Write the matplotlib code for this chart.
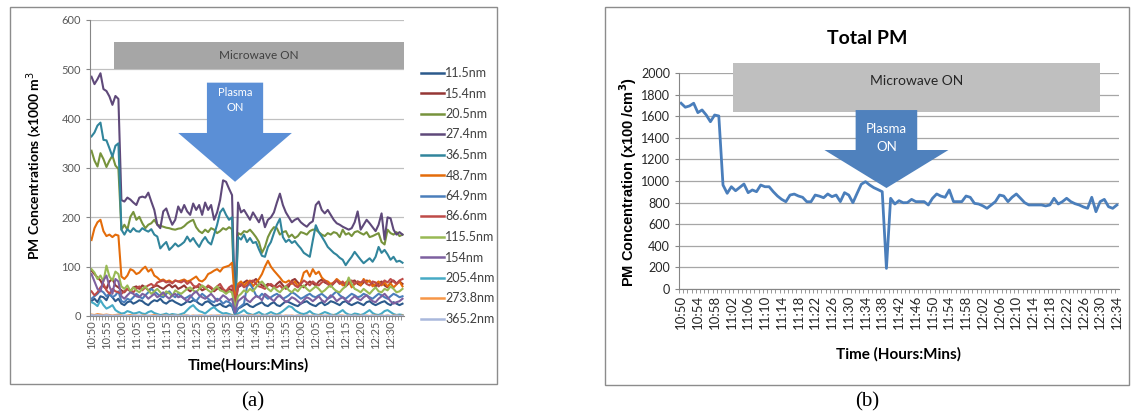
import matplotlib
matplotlib.use("Agg")
import matplotlib.pyplot as plt
import pandas as pd
from matplotlib.patches import Rectangle, FancyArrow

W, H = 1132, 417

# one reading per minute, 10:50 to 12:34
times = pd.date_range("2000-01-01 10:50", "2000-01-01 12:34", freq="min")
time_labels = list(times.strftime("%H:%M"))

# (a) size-resolved concentrations (x1000 m^-3)
nm_11_5 = [30, 35, 28, 40, 38, 32, 45, 38, 30, 35, 25, 22, 28, 30, 25,
           28, 32, 30, 25, 22, 28, 32, 30, 35, 28, 25, 30, 32, 28, 25,
           22, 25, 30, 28, 32, 30, 25, 22, 28, 30, 25, 20, 22, 25, 20,
           18, 22, 20, 2, 15, 18, 22, 25, 20, 18, 22, 25, 28, 22, 20,
           25, 28, 22, 20, 25, 30, 28, 25, 22, 20, 25, 28, 30, 25, 22,
           20, 25, 28, 22, 25, 30, 28, 25, 22, 28, 30, 25, 22, 25, 28,
           25, 22, 28, 30, 25, 22, 25, 28, 30, 25, 22, 28, 25, 22, 25]
nm_15_4 = [92, 85, 78, 72, 60, 55, 70, 75, 62, 58, 52, 48, 55, 50, 58,
           60, 55, 62, 58, 52, 56, 60, 62, 58, 55, 60, 64, 58, 62, 55,
           58, 62, 55, 50, 56, 60, 58, 52, 55, 60, 56, 50, 55, 58, 52,
           48, 55, 52, 20, 58, 62, 68, 72, 65, 70, 75, 68, 62, 60, 65,
           62, 58, 65, 70, 62, 55, 60, 72, 75, 68, 62, 58, 65, 70, 66,
           62, 70, 74, 68, 65, 60, 66, 72, 68, 64, 60, 66, 70, 72, 65,
           62, 68, 72, 70, 65, 60, 66, 70, 62, 58, 68, 72, 66, 70, 65]
nm_20_5 = [335, 315, 303, 330, 318, 302, 315, 325, 305, 298, 175, 185, 175, 201, 211,
           195, 201, 188, 178, 185, 188, 195, 185, 183, 181, 179, 178, 176, 175, 177,
           178, 182, 188, 192, 195, 180, 172, 168, 175, 170, 178, 175, 168, 172, 178,
           175, 180, 176, 5, 168, 165, 172, 170, 175, 168, 160, 150, 128, 140, 160,
           172, 180, 178, 165, 170, 172, 160, 165, 158, 162, 170, 168, 165, 172, 175,
           175, 170, 165, 162, 168, 165, 170, 168, 160, 175, 165, 168, 162, 170, 172,
           168, 165, 170, 160, 162, 165, 168, 150, 145, 175, 168, 165, 170, 162, 165]
nm_27_4 = [485, 470, 480, 492, 460, 456, 445, 428, 446, 440, 235, 232, 240, 236, 230,
           225, 240, 242, 240, 250, 232, 215, 185, 178, 212, 218, 200, 185, 195, 222,
           210, 225, 212, 205, 228, 215, 225, 205, 230, 215, 225, 195, 210, 235, 275,
           272, 258, 245, 5, 230, 210, 215, 205, 195, 210, 200, 190, 205, 180, 195,
           200, 210, 230, 248, 225, 210, 200, 190, 195, 198, 190, 185, 181, 188, 192,
           225, 232, 215, 208, 215, 205, 195, 188, 185, 181, 178, 175, 178, 190, 212,
           175, 185, 195, 188, 180, 172, 185, 208, 155, 200, 198, 175, 165, 170, 165]
nm_36_5 = [364, 372, 386, 392, 357, 356, 340, 323, 345, 350, 175, 165, 176, 170, 178,
           172, 171, 178, 174, 171, 176, 165, 161, 137, 144, 150, 134, 140, 147, 141,
           145, 150, 161, 151, 158, 148, 140, 152, 160, 150, 145, 165, 185, 210, 218,
           205, 195, 200, 3, 160, 155, 165, 150, 158, 148, 150, 135, 122, 120, 140,
           150, 168, 185, 197, 160, 150, 155, 148, 152, 144, 137, 128, 124, 120, 153,
           184, 170, 161, 151, 140, 134, 128, 124, 118, 114, 103, 112, 120, 130, 122,
           114, 107, 112, 117, 110, 120, 140, 128, 134, 125, 114, 120, 110, 112, 108]
nm_48_7 = [154, 178, 190, 195, 172, 162, 165, 160, 165, 163, 80, 75, 82, 95, 92,
           85, 88, 95, 100, 90, 95, 82, 78, 72, 74, 70, 72, 68, 72, 70,
           72, 74, 70, 72, 76, 80, 72, 70, 75, 85, 88, 92, 95, 90, 98,
           100, 102, 108, 30, 65, 70, 62, 68, 72, 60, 68, 75, 85, 100, 112,
           100, 92, 85, 78, 70, 68, 72, 65, 70, 60, 68, 88, 92, 80, 95,
           85, 90, 78, 72, 70, 65, 68, 75, 70, 62, 68, 72, 58, 65, 70,
           62, 75, 68, 72, 60, 65, 70, 62, 68, 60, 66, 58, 64, 70, 60]
nm_64_9 = [35, 40, 45, 52, 48, 40, 45, 38, 42, 50, 30, 28, 35, 32, 38,
           45, 40, 35, 42, 48, 55, 50, 45, 40, 38, 45, 50, 42, 38, 45,
           40, 35, 38, 42, 35, 30, 38, 45, 40, 35, 30, 28, 35, 32, 25,
           30, 28, 22, 5, 15, 20, 25, 60, 65, 55, 42, 38, 45, 40, 35,
           38, 42, 45, 40, 35, 38, 42, 48, 45, 40, 35, 38, 42, 45, 40,
           38, 42, 45, 40, 35, 38, 45, 50, 42, 38, 35, 40, 45, 42, 38,
           40, 45, 42, 38, 35, 40, 45, 42, 38, 35, 40, 45, 42, 38, 40]
nm_86_6 = [50, 42, 48, 58, 65, 52, 45, 55, 50, 48, 45, 50, 55, 52, 48,
           55, 60, 52, 58, 62, 65, 60, 68, 70, 72, 68, 70, 66, 72, 70,
           68, 72, 65, 70, 62, 58, 65, 60, 55, 62, 58, 52, 60, 65, 55,
           50, 58, 62, 25, 60, 65, 58, 62, 70, 72, 65, 60, 58, 55, 62,
           65, 60, 58, 62, 55, 60, 65, 70, 62, 58, 65, 72, 68, 62, 70,
           65, 62, 68, 72, 65, 60, 68, 72, 65, 70, 62, 68, 72, 65, 70,
           68, 72, 65, 62, 70, 68, 60, 65, 72, 68, 75, 70, 65, 72, 75]
nm_115_5 = [95, 88, 75, 82, 70, 102, 80, 72, 90, 85, 60, 55, 62, 50, 58,
            52, 48, 55, 60, 52, 45, 50, 55, 48, 42, 50, 46, 40, 52, 48,
            45, 50, 55, 58, 52, 48, 55, 62, 58, 52, 48, 55, 60, 52, 50,
            45, 50, 48, 15, 40, 45, 52, 48, 55, 50, 58, 65, 70, 62, 55,
            50, 58, 52, 48, 55, 60, 52, 48, 55, 50, 58, 62, 55, 50, 55,
            60, 55, 48, 52, 58, 62, 55, 50, 48, 55, 60, 78, 65, 55, 52,
            48, 55, 50, 45, 52, 58, 50, 48, 55, 52, 60, 55, 48, 50, 55]
nm_154 = [85, 70, 55, 50, 72, 82, 60, 45, 75, 70, 40, 35, 42, 48, 45,
          40, 38, 45, 42, 35, 40, 45, 38, 42, 48, 40, 35, 42, 45, 38,
          40, 35, 30, 38, 45, 50, 42, 38, 35, 40, 45, 38, 30, 35, 42,
          38, 32, 35, 8, 30, 35, 40, 32, 28, 35, 40, 38, 32, 45, 40,
          35, 30, 38, 42, 35, 28, 32, 38, 35, 30, 25, 32, 38, 35, 30,
          35, 40, 32, 28, 35, 42, 38, 30, 35, 38, 32, 28, 35, 40, 35,
          32, 38, 42, 35, 30, 28, 35, 40, 45, 38, 30, 25, 28, 30, 35]
nm_205_4 = [28, 25, 20, 32, 22, 15, 18, 22, 12, 8, 5, 6, 10, 8, 5,
            6, 8, 5, 4, 8, 10, 6, 4, 2, 3, 5, 2, 4, 3, 2,
            4, 6, 12, 18, 22, 15, 10, 8, 5, 10, 15, 18, 12, 8, 5,
            6, 4, 2, 0, 5, 8, 12, 6, 4, 2, 5, 8, 4, 2, 5,
            8, 5, 3, 6, 10, 15, 20, 18, 12, 8, 5, 4, 6, 10, 5,
            3, 2, 5, 8, 6, 3, 2, 4, 8, 12, 6, 3, 2, 5, 4,
            2, 4, 8, 12, 6, 3, 2, 5, 10, 12, 8, 4, 2, 3, 2]
nm_273_8 = [3, 2, 4, 3, 2, 3, 2, 1, 2, 3, 1, 0, 1, 2, 1,
            1, 0, 1, 1, 0, 1, 2, 1, 0, 1, 1, 0, 1, 0, 1,
            0, 1, 1, 0, 1, 0, 1, 1, 0, 0, 1, 0, 1, 1, 0,
            1, 0, 1, 0, 1, 0, 1, 0, 2, 1, 0, 1, 0, 1, 0,
            1, 0, 1, 1, 0, 1, 0, 1, 0, 1, 1, 0, 1, 0, 1,
            0, 1, 1, 0, 1, 0, 1, 0, 1, 1, 0, 1, 0, 1, 0,
            1, 0, 1, 0, 1, 1, 0, 1, 0, 1, 0, 1, 1, 0, 1]
nm_365_2 = [2, 1, 2, 1, 1, 2, 1, 0, 1, 1, 0, 1, 0, 0, 1,
            0, 1, 0, 0, 1, 0, 0, 1, 0, 0, 1, 0, 0, 1, 0,
            0, 0, 1, 0, 0, 1, 0, 0, 1, 0, 0, 1, 0, 0, 1,
            0, 1, 0, 0, 0, 1, 0, 0, 1, 0, 1, 0, 0, 1, 0,
            0, 1, 0, 1, 0, 0, 1, 0, 0, 1, 0, 0, 1, 0, 0,
            1, 0, 0, 1, 0, 1, 0, 0, 1, 0, 0, 1, 0, 1, 0,
            0, 1, 0, 0, 1, 0, 0, 1, 0, 1, 0, 0, 1, 0, 0]

# (b) total concentration (x100 /cm^3)
total_pm = [1720, 1683, 1695, 1720, 1633, 1658, 1611, 1549, 1611, 1602,
            963, 886, 947, 910, 941, 972, 892, 917, 901, 963,
            947, 947, 901, 861, 830, 808, 870, 879, 861, 849,
            808, 808, 870, 860, 845, 880, 855, 870, 809, 892,
            870, 799, 886, 970, 994, 963, 938, 920, 901, 191,
            840, 787, 818, 799, 800, 830, 809, 809, 809, 778,
            840, 880, 860, 849, 917, 809, 809, 809, 861, 849,
            793, 787, 770, 747, 778, 809, 870, 861, 809, 850,
            880, 840, 799, 778, 778, 778, 778, 769, 778, 840,
            787, 809, 840, 809, 790, 778, 760, 747, 849, 716,
            809, 830, 762, 747, 778]

size_labels = ["11.5nm", "15.4nm", "20.5nm", "27.4nm", "36.5nm", "48.7nm", "64.9nm",
               "86.6nm", "115.5nm", "154nm", "205.4nm", "273.8nm", "365.2nm"]
size_series = [nm_11_5, nm_15_4, nm_20_5, nm_27_4, nm_36_5, nm_48_7, nm_64_9,
               nm_86_6, nm_115_5, nm_154, nm_205_4, nm_273_8, nm_365_2]
size_colors = ["#2c5a8c", "#953735", "#77933c", "#5f497a", "#31859c", "#e46c0a", "#4a7ebb",
               "#be4b48", "#98b954", "#7d60a0", "#46aac5", "#f79646", "#a9b8dc"]

for s in size_series + [total_pm]:
    assert len(s) == len(times), len(s)

x = list(range(len(times)))
ui = ["Lato", "DejaVu Sans"]


def fx(px):
    return px / W


def fy(py):
    return 1 - py / H


fig = plt.figure(figsize=(W / 100, H / 100), dpi=100)

# panel frames
for x0, y0, x1, y1 in [(10, 7, 497, 384), (605, 7, 1129, 385)]:
    fig.add_artist(Rectangle((fx(x0), fy(y1)), fx(x1 - x0), (y1 - y0) / H,
                             transform=fig.transFigure, fill=False,
                             edgecolor="#8c8c8c", lw=1))

# ---------------- (a) ----------------
ax = fig.add_axes([fx(90), fy(316), fx(314), 296 / H])
for lab, s, c in zip(size_labels, size_series, size_colors):
    ax.plot(x, s, color=c, lw=1.5, label=lab, solid_joinstyle="round")
ax.set_xlim(-0.5, len(x) - 0.5)
ax.set_ylim(0, 600)
ax.set_yticks(range(0, 601, 100))
ax.set_xticks(x[::5])
ax.set_xticklabels(time_labels[::5], rotation=90, fontsize=8, color="#595959", family=ui)
ax.set_xticks([i - 0.5 for i in x], minor=True)
ax.tick_params(axis="y", labelsize=8, labelcolor="#595959", length=3, color="#868686")
ax.tick_params(axis="x", which="major", length=0, pad=3)
ax.tick_params(axis="x", which="minor", length=3, color="#868686")
for lbl in ax.get_yticklabels():
    lbl.set_family(ui)
ax.grid(axis="y", color="#c0c0c0", lw=0.9)
ax.set_axisbelow(True)
for side in ["top", "right"]:
    ax.spines[side].set_visible(False)
for side in ["left", "bottom"]:
    ax.spines[side].set_color("#868686")

ax.add_patch(Rectangle((7.6, 500), len(x) - 0.5 - 7.6, 56, facecolor="#a6a6a6",
                       edgecolor="none", clip_on=False, zorder=3))
ax.text(56, 528, "Microwave ON", ha="center", va="center", fontsize=8.5,
        color="#404040", family=ui, zorder=4)
ax.add_patch(FancyArrow(48, 473, 0, -201, width=18.8, head_width=38, head_length=99,
                        length_includes_head=True, color="#5b8fd6", lw=0, zorder=3))
ax.text(48, 438, "Plasma\nON", ha="center", va="center", fontsize=8, color="white",
        family=ui, linespacing=1.5, zorder=4)

leg = ax.legend(loc="upper left", bbox_to_anchor=(fx(421), fy(67)),
                bbox_transform=fig.transFigure, frameon=False,
                handlelength=1.8, handletextpad=0.15, labelspacing=0.68,
                borderpad=0, borderaxespad=0, prop={"family": ui, "size": 9})
for t in leg.get_texts():
    t.set_color("#404040")
for h in leg.get_lines():
    h.set_linewidth(1.8)

fig.text(fx(34), fy(165), "PM Concentrations (x1000 m$^3$", rotation=90,
         ha="center", va="center", fontsize=10, fontweight="bold", family=ui)
fig.text(fx(248), fy(365), "Time(Hours:Mins)", ha="center", va="center",
         fontsize=11, fontweight="bold", family=ui)
fig.text(fx(253), fy(402), "(a)", ha="center", va="center", fontsize=15,
         family="Liberation Serif")

# ---------------- (b) ----------------
bx = fig.add_axes([fx(679), fy(289), fx(440), 216 / H])
bx.plot(x, total_pm, color="#4a7ebb", lw=2, solid_joinstyle="round")
bx.set_xlim(-0.5, len(x) - 0.5)
bx.set_ylim(0, 2000)
bx.set_yticks(range(0, 2001, 200))
bx.set_xticks(x[::4])
bx.set_xticklabels(time_labels[::4], rotation=90, fontsize=9.5, color="#262626", family=ui)
bx.set_xticks([i - 0.5 for i in x], minor=True)
bx.tick_params(axis="y", labelsize=9, labelcolor="#262626", length=3, color="#868686")
bx.tick_params(axis="x", which="major", length=0, pad=4)
bx.tick_params(axis="x", which="minor", length=3, color="#868686")
for lbl in bx.get_yticklabels():
    lbl.set_family(ui)
bx.grid(axis="y", color="#a6a6a6", lw=0.9)
bx.set_axisbelow(True)
for side in ["top", "right"]:
    bx.spines[side].set_visible(False)
for side in ["left", "bottom"]:
    bx.spines[side].set_color("#868686")

bx.add_patch(Rectangle((12.5, 1639), 87.5, 454, facecolor="#bfbfbf",
                       edgecolor="none", clip_on=False, zorder=3))
bx.text(56.3, 1930, "Microwave ON", ha="center", va="center", fontsize=10,
        color="#262626", family=ui, zorder=4)
bx.add_patch(FancyArrow(49, 1657, 0, -722, width=14.7, head_width=29.6, head_length=352,
                        length_includes_head=True, color="#4f81bd", lw=0,
                        clip_on=False, zorder=3))
bx.text(49, 1400, "Plasma\nON", ha="center", va="center", fontsize=9.5, color="white",
        family=ui, linespacing=1.6, zorder=4)

fig.text(fx(867), fy(38), "Total PM", ha="center", va="center", fontsize=14,
         fontweight="bold", family=ui)
fig.text(fx(628), fy(182), "PM Concentration (x100 /cm$^\\mathbf{3}$)", rotation=90,
         ha="center", va="center", fontsize=10.5, fontweight="bold",
         family="Liberation Sans")
fig.text(fx(898), fy(354), "Time (Hours:Mins)", ha="center", va="center",
         fontsize=11, fontweight="bold", family=ui)
fig.text(fx(867), fy(402), "(b)", ha="center", va="center", fontsize=15,
         family="Liberation Serif")

fig.savefig("out.png", dpi=100)
